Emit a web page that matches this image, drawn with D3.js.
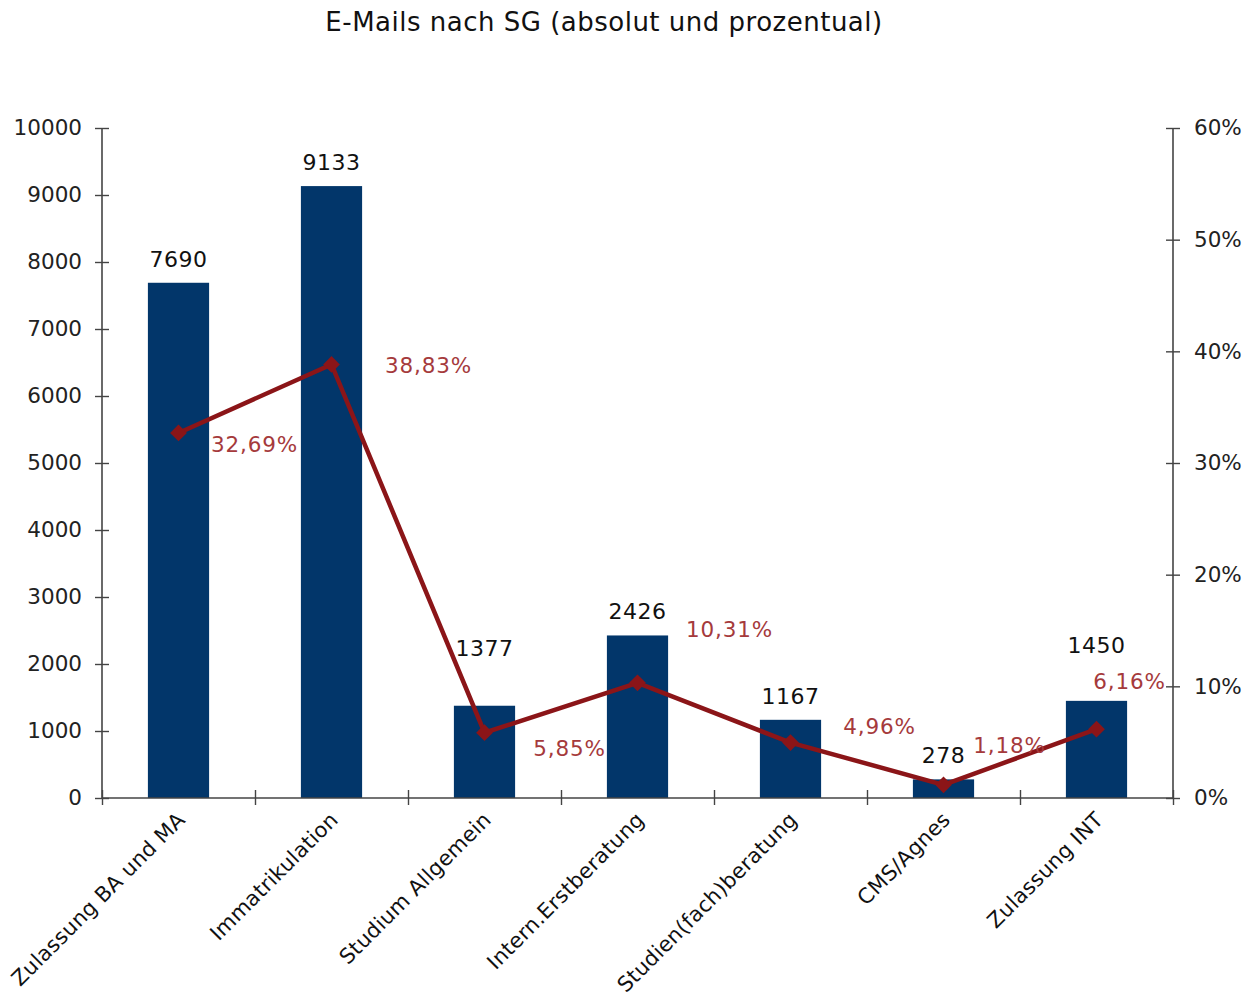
<!DOCTYPE html>
<html><head><meta charset="utf-8">
<script src="https://cdn.jsdelivr.net/npm/d3@7"></script>
<style>body{margin:0;background:#fff}svg{display:block}text{font-family:"DejaVu Sans",Verdana,sans-serif}</style>
</head><body>
<svg id="c" width="1255" height="996"></svg>
<script>
const categories = ["Zulassung BA und MA","Immatrikulation","Studium Allgemein","Intern.Erstberatung","Studien(fach)beratung","CMS/Agnes","Zulassung INT"];
const counts = [7690, 9133, 1377, 2426, 1167, 278, 1450];
const percents = [32.69, 38.83, 5.85, 10.31, 4.96, 1.18, 6.16];
const percentLabels = ["32,69%","38,83%","5,85%","10,31%","4,96%","1,18%","6,16%"];
const leftTicks = [0,1000,2000,3000,4000,5000,6000,7000,8000,9000,10000];
const rightTicks = [0,10,20,30,40,50,60];

const svg = d3.select("#c");
const L = 102, R = 1173, T = 128, B = 798;
const x = d3.scaleBand().domain(categories).range([L, R]).paddingInner(0.6).paddingOuter(0.3);
const xb = d3.scaleBand().domain(categories).range([L, R]);
const y = d3.scaleLinear().domain([0, 10000]).range([B, T]);
const y2 = d3.scaleLinear().domain([0, 60]).range([B, T]);
const axisCol = "#444";

svg.append("text").attr("x", 604).attr("y", 31).attr("text-anchor","middle")
  .attr("font-size", 26).attr("letter-spacing",0.5).attr("fill","#111").text("E-Mails nach SG (absolut und prozentual)");

// bars
svg.selectAll("rect.bar").data(counts).join("rect")
  .attr("x", (d,i)=>x(categories[i])).attr("width", x.bandwidth())
  .attr("y", d=>y(d)).attr("height", d=>B-y(d)).attr("fill","#02366a");

// axes
const gl = svg.append("g").attr("transform",`translate(${L},0)`)
  .call(d3.axisLeft(y).tickValues(leftTicks).tickSize(7).tickPadding(13).tickFormat(d3.format("d")));
const gr = svg.append("g").attr("transform",`translate(${R},0)`)
  .call(d3.axisRight(y2).tickValues(rightTicks).tickSize(7).tickPadding(14).tickFormat(d=>d+"%"));
const gx = svg.append("g").attr("transform",`translate(0,${B})`)
  .call(d3.axisBottom(d3.scaleLinear().domain([0,7]).range([L,R])).tickValues(d3.range(8)).tickSize(8).tickFormat(""));
[gl,gr,gx].forEach(g=>{
  g.select(".domain").attr("stroke",axisCol).attr("stroke-width",1.6);
  g.selectAll(".tick line").attr("stroke",axisCol).attr("stroke-width",1.4);
  g.selectAll(".tick text").attr("font-size",21.5).attr("fill","#222").attr("font-family",'"DejaVu Sans",Verdana,sans-serif');
});
gl.selectAll(".tick line").attr("x1",7).attr("x2",-7);
gr.selectAll(".tick line").attr("x1",-7).attr("x2",7);
gx.selectAll(".tick line").attr("y1",-8).attr("y2",7);
gl.select(".domain").attr("d",`M0,${B}V${T}`);
gr.select(".domain").attr("d",`M0,${B}V${T}`);
gx.select(".domain").attr("d",`M${L},0H${R}`);

// category labels
svg.selectAll("text.cat").data(categories).join("text")
  .attr("class","cat")
  .attr("transform", d=>`translate(${xb(d)+xb.bandwidth()/2+8},${B+23}) rotate(-45)`)
  .attr("text-anchor","end").attr("font-size",21).attr("letter-spacing",0.3).attr("fill","#111").text(d=>d);

// bar value labels
const countLift = [0,0,34,0,0,0,32];
svg.selectAll("text.val").data(counts).join("text")
  .attr("x",(d,i)=>xb(categories[i])+xb.bandwidth()/2)
  .attr("y",(d,i)=>y(d)-16-countLift[i])
  .attr("text-anchor","middle").attr("font-size",22).attr("letter-spacing",0.5).attr("fill","#111").text(d=>d);

// line
const cx = i => xb(categories[i])+xb.bandwidth()/2;
svg.append("path").datum(percents)
  .attr("d", d3.line().x((d,i)=>cx(i)).y(d=>y2(d)))
  .attr("fill","none").attr("stroke","#8b1518").attr("stroke-width",4.5);
svg.selectAll("path.mk").data(percents).join("path")
  .attr("transform",(d,i)=>`translate(${cx(i)},${y2(d)}) rotate(45)`)
  .attr("d", d3.symbol(d3.symbolSquare, 140)).attr("fill","#8b1518");

// percent labels
const pdx = [76, 97, 85, 92, 89, 66, 33];
const pdy = [12, 1, 16, -53, -16, -39, -48];
svg.selectAll("text.pct").data(percentLabels).join("text")
  .attr("x",(d,i)=>cx(i)+pdx[i]).attr("y",(d,i)=>y2(percents[i])+pdy[i])
  .attr("dy","0.35em").attr("text-anchor","middle").attr("font-size",21.5).attr("letter-spacing",0.8).attr("fill","#a53a3c").text(d=>d);
</script>
</body></html>
